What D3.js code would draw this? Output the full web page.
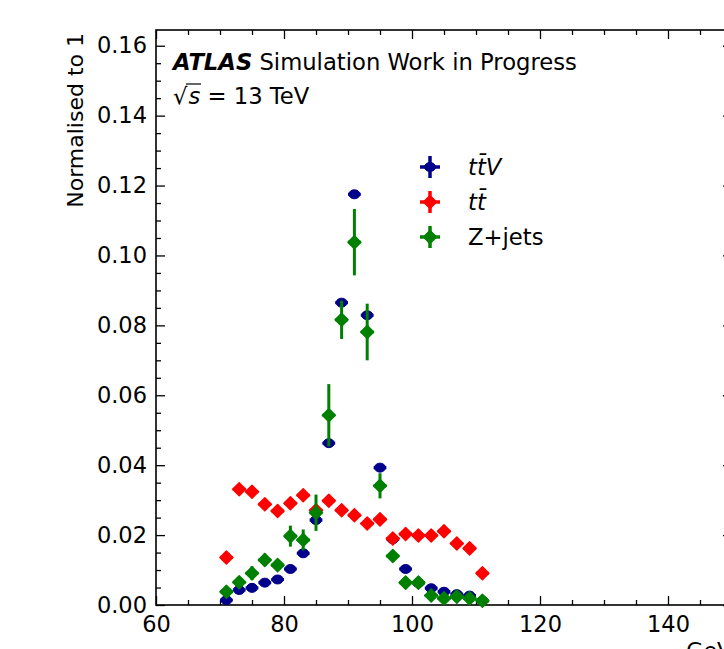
<!DOCTYPE html>
<html>
<head>
<meta charset="utf-8">
<script src="https://d3js.org/d3.v7.min.js"></script>
<style>
  body { margin: 0; background: #fff; }
  svg text { font-family: "DejaVu Sans", sans-serif; fill: #000; }
</style>
</head>
<body>
<div id="chart"></div>
<script>
// bin centres (GeV), 2 GeV wide bins
const binCentres = [71, 73, 75, 77, 79, 81, 83, 85, 87, 89, 91, 93, 95, 97, 99, 101, 103, 105, 107, 109, 111];
const binHalfWidth = 1;

const ttvValues = [0.0014, 0.0043, 0.0049, 0.0064, 0.0073, 0.0103, 0.0148, 0.0243, 0.0463, 0.0865,
  0.1175, 0.0829, 0.0393, 0.0188, 0.0103, 0.0063, 0.0048, 0.0038, 0.0031, 0.0027, 0.0012];
const ttvErrors = [0.0002, 0.0003, 0.0003, 0.0003, 0.0003, 0.0004, 0.0004, 0.0005, 0.0007, 0.0009,
  0.0010, 0.0009, 0.0006, 0.0004, 0.0003, 0.0003, 0.0003, 0.0002, 0.0002, 0.0002, 0.0002];

const ttValues = [0.0136, 0.0331, 0.0324, 0.0288, 0.0269, 0.0291, 0.0314, 0.0271, 0.0298, 0.0271,
  0.0257, 0.0233, 0.0245, 0.0190, 0.0203, 0.0199, 0.0199, 0.0211, 0.0176, 0.0162, 0.0091];
const ttErrors = [0.0004, 0.0006, 0.0006, 0.0006, 0.0006, 0.0006, 0.0006, 0.0006, 0.0006, 0.0006,
  0.0006, 0.0005, 0.0005, 0.0005, 0.0005, 0.0005, 0.0005, 0.0005, 0.0005, 0.0004, 0.0003];

const zjetsValues = [0.0038, 0.0065, 0.0091, 0.0129, 0.0114, 0.0197, 0.0186, 0.0264, 0.0543, 0.0816,
  0.1038, 0.0781, 0.0341, 0.0140, 0.0064, 0.0064, 0.0027, 0.0019, 0.0024, 0.0019, 0.0012];
const zjetsErrors = [0.0010, 0.0015, 0.0020, 0.0018, 0.0012, 0.0030, 0.0030, 0.0052, 0.0089, 0.0055,
  0.0095, 0.0081, 0.0036, 0.0015, 0.0010, 0.0010, 0.0008, 0.0008, 0.0008, 0.0008, 0.0006];

const xTicks = [60, 80, 100, 120, 140];
const yTicks = [0.00, 0.02, 0.04, 0.06, 0.08, 0.10, 0.12, 0.14, 0.16];

const series = [
  { label: "ttV", values: ttvValues, errors: ttvErrors, color: "#00008b", marker: "circle" },
  { label: "tt", values: ttValues, errors: ttErrors, color: "#ff0000", marker: "diamond" },
  { label: "Z+jets", values: zjetsValues, errors: zjetsErrors, color: "#008000", marker: "diamond" },
];

const width = 724;
const height = 649;
const margin = { top: 30, left: 156 };
const innerW = 576;
const innerH = 575;
const fontSize = 22.5;

const svg = d3
  .select("#chart")
  .append("svg")
  .attr("width", width)
  .attr("height", height);

const x = d3.scaleLinear().domain([60, 150]).range([0, innerW]);
const y = d3.scaleLinear().domain([0, 0.1645]).range([innerH, 0]);

const g = svg.append("g").attr("transform", `translate(${margin.left},${margin.top})`);

// minor ticks
const xMinor = d3.range(60, 151, 5).filter((v) => v % 20 !== 0);
const yMinor = d3.range(0, 0.1645, 0.005).filter((v) => Math.round(v * 1000) % 20 !== 0);

function styleAxis(sel) {
  sel.select(".domain").remove();
  sel.selectAll(".tick line").attr("stroke", "#000").attr("stroke-width", 1.3);
  sel.selectAll(".tick text").style("font-size", fontSize + "px").attr("fill", "#000");
}

// bottom
g.append("g")
  .attr("transform", `translate(0,${innerH})`)
  .call(d3.axisBottom(x).tickValues(xTicks).tickSize(-9).tickFormat(d3.format("d")))
  .call(styleAxis)
  .selectAll(".tick text").attr("dy", "0.71em").attr("y", 11);
g.append("g")
  .attr("transform", `translate(0,${innerH})`)
  .call(d3.axisBottom(x).tickValues(xMinor).tickSize(-5).tickFormat(""))
  .call(styleAxis);
// top
g.append("g")
  .call(d3.axisTop(x).tickValues(xTicks).tickSize(-9).tickFormat(""))
  .call(styleAxis);
g.append("g")
  .call(d3.axisTop(x).tickValues(xMinor).tickSize(-5).tickFormat(""))
  .call(styleAxis);
// left
g.append("g")
  .call(d3.axisLeft(y).tickValues(yTicks).tickSize(-9).tickFormat(d3.format(".2f")))
  .call(styleAxis)
  .selectAll(".tick text").attr("x", -9);
g.append("g")
  .call(d3.axisLeft(y).tickValues(yMinor).tickSize(-5).tickFormat(""))
  .call(styleAxis);
// right
g.append("g")
  .attr("transform", `translate(${innerW},0)`)
  .call(d3.axisRight(y).tickValues(yTicks).tickSize(-9).tickFormat(""))
  .call(styleAxis);
g.append("g")
  .attr("transform", `translate(${innerW},0)`)
  .call(d3.axisRight(y).tickValues(yMinor).tickSize(-5).tickFormat(""))
  .call(styleAxis);

// frame
g.append("rect")
  .attr("width", innerW)
  .attr("height", innerH)
  .attr("fill", "none")
  .attr("stroke", "#000")
  .attr("stroke-width", 1.6);

function drawMarker(sel, kind, color) {
  if (kind === "circle") {
    sel.append("ellipse").attr("rx", 5.5).attr("ry", 4.5)
      .attr("fill", color).attr("stroke", color).attr("stroke-width", 1);
  } else {
    const r = 6.5;
    sel.append("path")
      .attr("d", `M0,${-r}L${r},0L0,${r}L${-r},0Z`)
      .attr("fill", color)
      .attr("stroke", color)
      .attr("stroke-width", 1.5)
      .attr("stroke-linejoin", "round");
  }
}

// data points
series.forEach((s) => {
  const pts = g.append("g").attr("class", "series");
  binCentres.forEach((c, i) => {
    const v = s.values[i];
    const e = s.errors[i];
    const p = pts.append("g");
    p.append("line")
      .attr("x1", x(c - binHalfWidth)).attr("x2", x(c + binHalfWidth))
      .attr("y1", y(v)).attr("y2", y(v))
      .attr("stroke", s.color).attr("stroke-width", 3);
    p.append("line")
      .attr("x1", x(c)).attr("x2", x(c))
      .attr("y1", y(v - e)).attr("y2", y(v + e))
      .attr("stroke", s.color).attr("stroke-width", 3);
    const m = p.append("g").attr("transform", `translate(${x(c)},${y(v)})`);
    drawMarker(m, s.marker, s.color);
  });
});

// ATLAS label
const atlas = g.append("text")
  .attr("x", 17)
  .attr("y", 40)
  .style("font-size", "22.7px");
atlas.append("tspan").style("font-weight", "bold").style("font-style", "italic").text("ATLAS");
atlas.append("tspan").text(" Simulation Work in Progress");

const energy = g.append("text")
  .attr("x", 17)
  .attr("y", 74)
  .style("font-size", "22.7px");
energy.append("tspan").text("\u221A");
energy.append("tspan").style("font-style", "italic").attr("dx", 1).text("s");
energy.append("tspan").text(" = 13 TeV");
// overbar of the root sign
g.append("line")
  .attr("x1", 30).attr("x2", 45)
  .attr("y1", 54).attr("y2", 54)
  .attr("stroke", "#000").attr("stroke-width", 1.2);

// legend
const legendLabels = ["t\u0074\u0304V", "t\u0074\u0304", "Z+jets"];
const legend = g.append("g").attr("transform", "translate(274,137)");
series.forEach((s, i) => {
  const row = legend.append("g").attr("transform", `translate(0,${i * 35})`);
  row.append("line").attr("x1", -10).attr("x2", 10).attr("y1", 0).attr("y2", 0)
    .attr("stroke", s.color).attr("stroke-width", 3.5);
  row.append("line").attr("x1", 0).attr("x2", 0).attr("y1", -11).attr("y2", 11)
    .attr("stroke", s.color).attr("stroke-width", 3.5);
  drawMarker(row, s.marker, s.color);
  row.append("text")
    .attr("x", 38)
    .attr("y", 8)
    .style("font-size", "22.7px")
    .style("font-style", i < 2 ? "italic" : "normal")
    .text(legendLabels[i]);
});

// axis titles
svg.append("text")
  .attr("transform", `translate(83,${margin.top + 3}) rotate(-90)`)
  .attr("text-anchor", "end")
  .style("font-size", "22px")
  .text("Normalised to 1");

// x title sits right-aligned under the axis and is mostly below the frame
svg.append("text")
  .attr("x", margin.left + innerW)
  .attr("y", 658)
  .attr("text-anchor", "end")
  .style("font-size", "22px")
  .text("GeV");
</script>
</body>
</html>
